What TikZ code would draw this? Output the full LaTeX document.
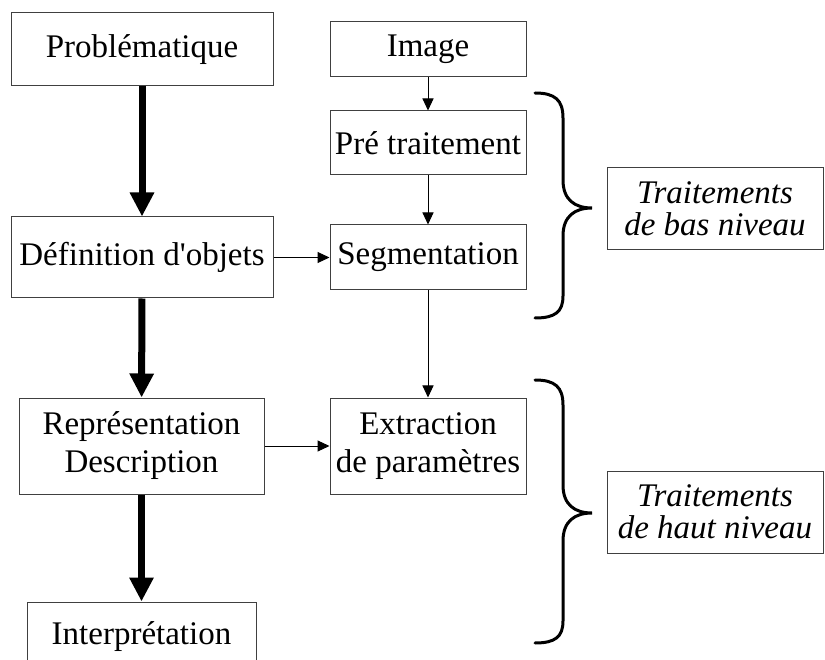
\documentclass[tikz,border=0pt]{standalone}
\usepackage{fontspec}
\setmainfont{Liberation Serif}
\usetikzlibrary{arrows.meta}

\begin{document}
\begin{tikzpicture}[
  x=1pt, y=-1pt,
  box/.style = {shape=rectangle, draw=black!75, line width=1pt,
    inner sep=0pt, align=center, font=\fontsize{33}{38}\selectfont},
  tagbox/.style = {box, font=\fontsize{33}{32}\selectfont\itshape},
  bigarrow/.style = {line width=7pt, -{Triangle[width=23pt,length=24pt]}},
  smallarrow/.style = {line width=1pt, -{Triangle[width=11pt,length=12pt]}},
  bracket/.style = {line width=3pt, line cap=round}
  ]
  \path[fill=white, use as bounding box] (0,0) rectangle (825,660);

  % left column
  \node[box, minimum width=262pt, minimum height=73pt] (prob) at (142,49.5) {Problématique};
  \node[box, minimum width=262pt, minimum height=81pt] (defn) at (142,257.5) {Définition d\textquotesingle objets};
  \node[box, minimum width=245pt, minimum height=96pt] (repr) at (141.5,446) {Représentation\\Description};
  \node[box, minimum width=229pt, minimum height=70pt] (interp) at (141.5,637) {Interprétation};

  % right column
  \node[box, minimum width=196pt, minimum height=55pt] (img) at (428,49.5) {Image};
  \node[box, minimum width=196pt, minimum height=64pt] (pre) at (428,143) {Pré traitement};
  \node[box, minimum width=196pt, minimum height=65pt] (seg) at (428,257.5) {Segmentation};
  \node[box, minimum width=196pt, minimum height=96pt] (extr) at (428,446) {Extraction\\de paramètres};

  % levels
  \node[tagbox, minimum width=216pt, minimum height=82pt] (bas) at (715,209) {Traitements\\de bas niveau};
  \node[tagbox, minimum width=216pt, minimum height=82pt] (haut) at (715,512) {Traitements\\de haut niveau};

  % thick arrows
  \draw[bigarrow] (prob) -- (defn);
  \draw[bigarrow] (defn) -- (repr);
  \draw[bigarrow] (repr) -- (interp);

  % thin arrows
  \draw[smallarrow] (img) -- (pre);
  \draw[smallarrow] (pre) -- (seg);
  \draw[smallarrow] (seg) -- (extr);
  \draw[smallarrow] (defn) -- (seg);
  \draw[smallarrow] (repr) -- (extr);

  % braces
  \draw[bracket] (535,93) .. controls (555,93) and (563,100) .. (563,118)
    -- (563,180) .. controls (563,200) and (575,208) .. (592,208)
    .. controls (575,208) and (563,216) .. (563,236)
    -- (563,296) .. controls (563,312) and (555,318) .. (535,318);
  \draw[bracket] (535,380) .. controls (555,380) and (563,387) .. (563,405)
    -- (563,485) .. controls (563,505) and (575,513) .. (592,513)
    .. controls (575,513) and (563,521) .. (563,541)
    -- (563,621) .. controls (563,637) and (555,643) .. (535,643);
\end{tikzpicture}
\end{document}
